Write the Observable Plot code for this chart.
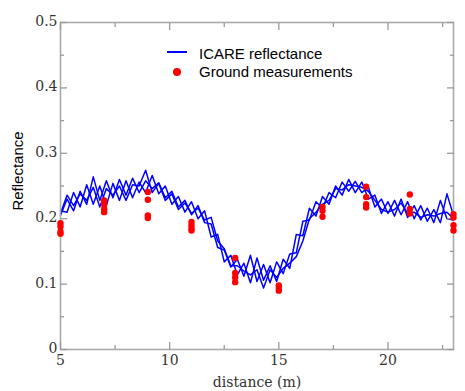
<!DOCTYPE html>
<html>
<head>
<meta charset="utf-8">
<script src="https://cdn.jsdelivr.net/npm/d3@7"></script>
<script src="https://cdn.jsdelivr.net/npm/@observablehq/plot@0.6"></script>
<style>
  html, body { margin: 0; padding: 0; background: white; }
  #wrap { position: relative; width: 465px; height: 391px; }
  #wrap svg text { font-family: "DejaVu Serif", serif !important; }
  #wrap svg g[aria-label="text"] text { font-family: "Liberation Sans", Arial, sans-serif !important; }
  .leg { position: absolute; font-family: "Liberation Sans", Arial, sans-serif; font-size: 15px; line-height: 15px; color: #000; white-space: nowrap; }
  .sw-line { position: absolute; height: 2px; background: #0000ff; }
  .sw-dot { position: absolute; width: 8px; height: 8px; border-radius: 50%; background: #ff0000; }
</style>
</head>
<body>
<div id="wrap"></div>
<script>
// ---- data ----
const distance = [5.0, 5.3, 5.6, 5.9, 6.2, 6.5, 6.8, 7.1, 7.4, 7.7, 8.0, 8.3, 8.6, 8.9, 9.2, 9.5, 9.8, 10.1, 10.4, 10.7,
  11.0, 11.3, 11.6, 11.9, 12.2, 12.5, 12.8, 13.1, 13.4, 13.7, 14.0, 14.3, 14.6, 14.9, 15.2, 15.5, 15.8, 16.1, 16.4, 16.7,
  17.0, 17.3, 17.6, 17.9, 18.2, 18.5, 18.8, 19.1, 19.4, 19.7, 20.0, 20.3, 20.6, 20.9, 21.2, 21.5, 21.8, 22.1, 22.4, 22.7, 23.0];

const icareRunA = [0.205, 0.230, 0.212, 0.242, 0.222, 0.264, 0.228, 0.258, 0.232, 0.260, 0.236, 0.262, 0.240, 0.258, 0.246, 0.255, 0.232, 0.242, 0.218, 0.228,
  0.206, 0.220, 0.194, 0.192, 0.156, 0.152, 0.126, 0.138, 0.112, 0.144, 0.104, 0.130, 0.102, 0.134, 0.116, 0.146, 0.148, 0.196, 0.198, 0.226,
  0.216, 0.240, 0.232, 0.256, 0.242, 0.257, 0.240, 0.248, 0.218, 0.230, 0.208, 0.228, 0.206, 0.226, 0.200, 0.220, 0.196, 0.214, 0.194, 0.238, 0.205];

const icareRunB = [0.212, 0.210, 0.240, 0.218, 0.252, 0.222, 0.250, 0.220, 0.254, 0.228, 0.258, 0.232, 0.256, 0.240, 0.266, 0.238, 0.250, 0.222, 0.234, 0.210,
  0.226, 0.200, 0.212, 0.172, 0.176, 0.134, 0.144, 0.114, 0.132, 0.102, 0.140, 0.106, 0.128, 0.104, 0.138, 0.124, 0.176, 0.174, 0.216, 0.204,
  0.234, 0.222, 0.250, 0.236, 0.260, 0.240, 0.256, 0.230, 0.236, 0.208, 0.226, 0.204, 0.230, 0.202, 0.220, 0.198, 0.216, 0.194, 0.228, 0.200, 0.198];

const icareRunC = [0.208, 0.236, 0.220, 0.238, 0.228, 0.248, 0.218, 0.246, 0.236, 0.250, 0.228, 0.252, 0.250, 0.274, 0.240, 0.254, 0.228, 0.238, 0.214, 0.224,
  0.208, 0.216, 0.198, 0.202, 0.166, 0.154, 0.128, 0.128, 0.120, 0.114, 0.122, 0.094, 0.122, 0.110, 0.124, 0.132, 0.142, 0.166, 0.200, 0.210,
  0.222, 0.228, 0.246, 0.244, 0.252, 0.250, 0.248, 0.242, 0.228, 0.214, 0.210, 0.214, 0.224, 0.208, 0.210, 0.202, 0.206, 0.204, 0.208, 0.210, 0.200];

const groundDistance = [5, 5, 5, 5, 7, 7, 7, 7, 9, 9, 9, 9, 11, 11, 11, 11, 13, 13, 13, 13, 15, 15, 15, 17, 17, 17, 19, 19, 19, 19, 21, 21, 21, 23, 23, 23, 23];
const groundReflectance = [0.193, 0.188, 0.180, 0.177, 0.228, 0.222, 0.215, 0.210, 0.241, 0.229, 0.205, 0.201, 0.195, 0.190, 0.185, 0.182,
  0.140, 0.117, 0.110, 0.103, 0.098, 0.094, 0.090, 0.218, 0.212, 0.203, 0.249, 0.233, 0.222, 0.217, 0.237, 0.215, 0.208, 0.207, 0.202, 0.190, 0.182];

const xMajorTicks = [5, 10, 15, 20];
const xMinorTicks = [7.5, 12.5, 17.5, 22.5];
const yMajorTicks = [0, 0.1, 0.2, 0.3, 0.4, 0.5];
const yMinorTicks = [0.05, 0.15, 0.25, 0.35, 0.45];
const legendLabels = ["ICARE reflectance", "Ground measurements"];
const xLabel = "distance (m)";
const yLabel = "Reflectance";

// ---- tables ----
const runs = [icareRunA, icareRunB, icareRunC];
const icare = runs.flatMap((r, k) => r.map((v, i) => ({x: distance[i], y: v, run: k})));
const ground = groundDistance.map((d, i) => ({x: d, y: groundReflectance[i]}));

const tickColor = "#9a9a9a";
const blank = () => "";

const tickAxes = [];
for (const anchor of ["bottom", "top"]) {
  tickAxes.push(Plot.axisX({anchor, ticks: xMajorTicks, tickSize: -7, tickFormat: blank, label: null, stroke: tickColor, strokeWidth: 1.3}));
  tickAxes.push(Plot.axisX({anchor, ticks: xMinorTicks, tickSize: -4, tickFormat: blank, label: null, stroke: tickColor, strokeWidth: 1.3}));
}
for (const anchor of ["left", "right"]) {
  tickAxes.push(Plot.axisY({anchor, ticks: yMajorTicks, tickSize: -7, tickFormat: blank, label: null, stroke: tickColor, strokeWidth: 1.3}));
  tickAxes.push(Plot.axisY({anchor, ticks: yMinorTicks, tickSize: -4, tickFormat: blank, label: null, stroke: tickColor, strokeWidth: 1.3}));
}

const chart = Plot.plot({
  width: 465,
  height: 391,
  marginTop: 22,
  marginRight: 12,
  marginBottom: 42,
  marginLeft: 60,
  style: {fontSize: "14px", background: "white", color: "#333"},
  x: {domain: [5, 23]},
  y: {domain: [0, 0.5]},
  marks: [
    Plot.line(icare, {x: "x", y: "y", z: "run", stroke: "#0000ff", strokeWidth: 1.5}),
    Plot.frame({stroke: "#aaaaaa", strokeWidth: 1.6}),
    ...tickAxes,
    Plot.axisX({anchor: "bottom", ticks: xMajorTicks, tickSize: 0, tickPadding: 6, tickFormat: d => String(d),
      fontSize: 14, fill: "#333", label: xLabel, labelAnchor: "center", labelArrow: "none", labelOffset: 37}),
    Plot.axisY({anchor: "left", ticks: yMajorTicks, tickSize: 0, tickPadding: 3, dy: -1, tickFormat: d => d === 0 ? "0" : d.toFixed(1),
      fontSize: 14, fill: "#333", label: null}),
    Plot.text([yLabel], {frameAnchor: "left", rotate: -90, dx: -42, dy: -15, textAnchor: "middle",
      fontSize: 15, fill: "#000"}),
    Plot.dot(ground, {x: "x", y: "y", r: 3.2, fill: "#ff0000", stroke: "none"})
  ]
});

const wrap = document.getElementById("wrap");
wrap.appendChild(chart);

// legend overlay
const sl = document.createElement("div");
sl.className = "sw-line"; sl.style.left = "167px"; sl.style.top = "51px"; sl.style.width = "20px";
wrap.appendChild(sl);
const sd = document.createElement("div");
sd.className = "sw-dot"; sd.style.left = "173px"; sd.style.top = "68px";
wrap.appendChild(sd);
legendLabels.forEach((t, i) => {
  const d = document.createElement("div");
  d.className = "leg";
  d.textContent = t;
  d.style.left = "199px";
  d.style.top = (i === 0 ? 46 : 64) + "px";
  wrap.appendChild(d);
});
</script>
</body>
</html>
